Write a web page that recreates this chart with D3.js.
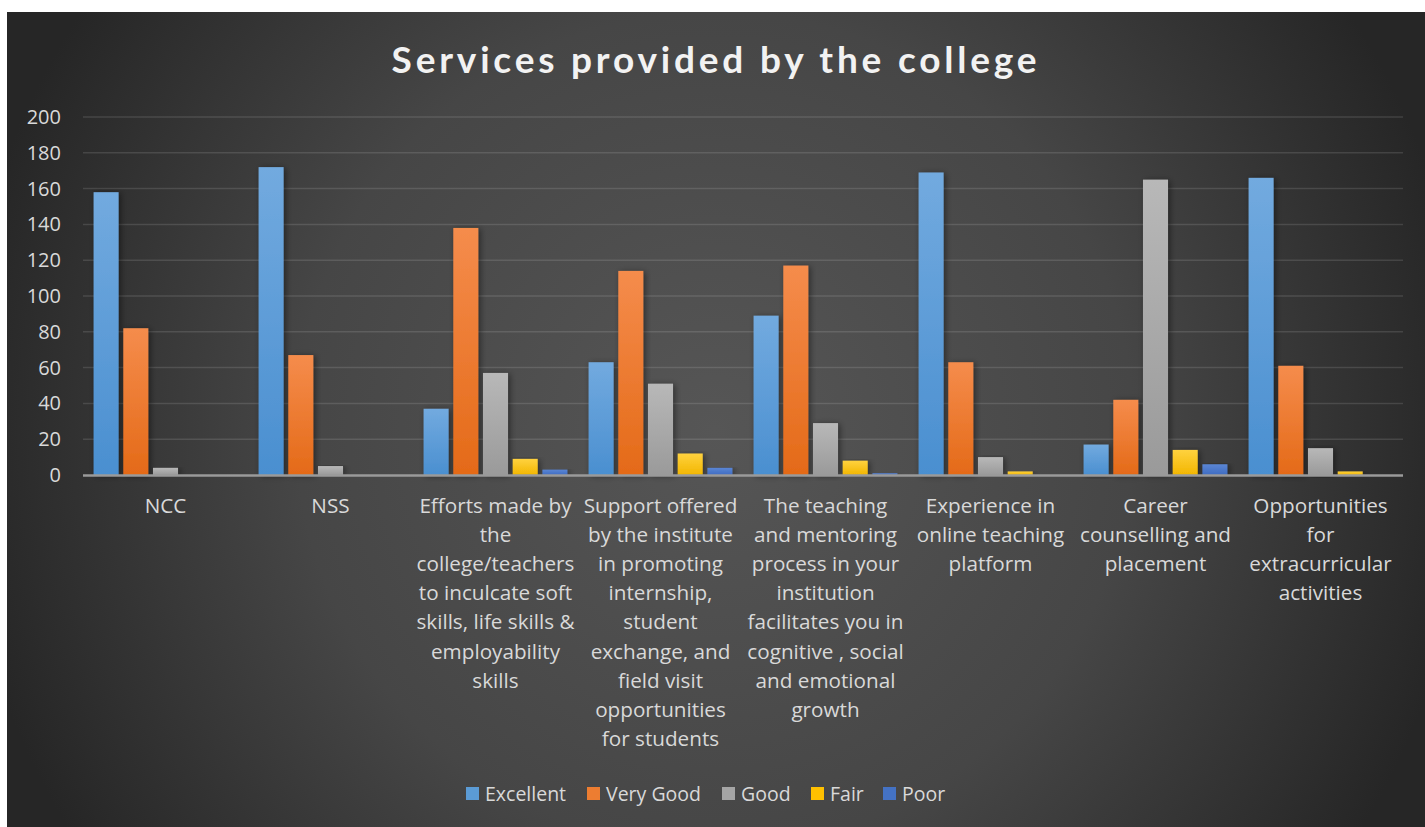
<!DOCTYPE html>
<html>
<head>
<meta charset="utf-8">
<script src="https://cdn.jsdelivr.net/npm/d3@7"></script>
<style>
  html, body { margin: 0; padding: 0; background: #ffffff; }
  svg { display: block; }
</style>
</head>
<body>
<svg id="chart" width="1425" height="827"></svg>
<script>
const categories = ["NCC", "NSS", "Efforts", "Support", "Teaching", "Experience", "Career", "Opportunities"];
const categoryLabels = [
  ["NCC"],
  ["NSS"],
  ["Efforts made by", "the", "college/teachers", "to inculcate soft", "skills, life skills &", "employability", "skills"],
  ["Support offered", "by the institute", "in promoting", "internship,", "student", "exchange, and", "field visit", "opportunities", "for students"],
  ["The teaching", "and mentoring", "process in your", "institution", "facilitates you in", "cognitive , social", "and emotional", "growth"],
  ["Experience in", "online teaching", "platform"],
  ["Career", "counselling and", "placement"],
  ["Opportunities", "for", "extracurricular", "activities"]
];
const seriesNames = ["Excellent", "Very Good", "Good", "Fair", "Poor"];
const excellent = [158, 172, 37, 63, 89, 169, 17, 166];
const veryGood  = [82, 67, 138, 114, 117, 63, 42, 61];
const good      = [4, 5, 57, 51, 29, 10, 165, 15];
const fair      = [0, 0, 9, 12, 8, 2, 14, 2];
const poor      = [0, 0, 3, 4, 1, 0, 6, 0];
const yTicks = [0, 20, 40, 60, 80, 100, 120, 140, 160, 180, 200];
const titleText = "Services provided by the college";

const seriesValues = [excellent, veryGood, good, fair, poor];
const colorsTop    = ["#72aadf", "#f58c4c", "#b8b8b8", "#ffd23f", "#5b86d4"];
const colorsBottom = ["#4a8fd0", "#e46a18", "#9a9a9a", "#f2b600", "#3e6cc2"];
const legendColors = ["#5b9bd5", "#ed7d31", "#a5a5a5", "#ffc000", "#4472c4"];

const bodyFont = "'Open Sans', Lato, sans-serif";
const titleFont = "Lato, 'Open Sans', sans-serif";

const svg = d3.select("#chart");
const defs = svg.append("defs");

const bg = defs.append("radialGradient").attr("id", "bg")
  .attr("gradientUnits", "userSpaceOnUse")
  .attr("cx", 715).attr("cy", 430).attr("r", 760);
bg.append("stop").attr("offset", "0%").attr("stop-color", "#565656");
bg.append("stop").attr("offset", "55%").attr("stop-color", "#464646");
bg.append("stop").attr("offset", "100%").attr("stop-color", "#262626");

seriesNames.forEach((s, i) => {
  const g = defs.append("linearGradient").attr("id", "g" + i)
    .attr("x1", 0).attr("y1", 0).attr("x2", 0).attr("y2", 1);
  g.append("stop").attr("offset", "0%").attr("stop-color", colorsTop[i]);
  g.append("stop").attr("offset", "100%").attr("stop-color", colorsBottom[i]);
});

const shadow = defs.append("filter").attr("id", "shadow")
  .attr("x", "-30%").attr("y", "-10%").attr("width", "160%").attr("height", "120%");
shadow.append("feDropShadow").attr("dx", 2).attr("dy", 1).attr("stdDeviation", 3)
  .attr("flood-color", "#000").attr("flood-opacity", 0.45);

svg.append("rect").attr("x", 7).attr("y", 12).attr("width", 1418).attr("height", 815)
  .attr("fill", "url(#bg)");

const plotLeft = 83, plotRight = 1403, plotTop = 117, plotBottom = 475;

const x = d3.scaleBand().domain(categories).range([plotLeft, plotRight]).paddingInner(0).paddingOuter(0);
const groupWidth = 143.8;
const xs = d3.scaleBand().domain(seriesNames).range([0, groupWidth]).paddingInner(0.158).paddingOuter(0);
const y = d3.scaleLinear().domain([0, 200]).range([plotBottom, plotTop]);

svg.append("g").selectAll("line").data(yTicks.filter(t => t > 0)).join("line")
  .attr("x1", plotLeft).attr("x2", plotRight)
  .attr("y1", d => y(d)).attr("y2", d => y(d))
  .attr("stroke", "#ffffff").attr("stroke-opacity", 0.12).attr("stroke-width", 1.5);

const yAxis = d3.axisLeft(y).tickValues(yTicks).tickSize(0).tickPadding(0);
const yg = svg.append("g").attr("transform", `translate(${plotLeft - 22},0)`).call(yAxis);
yg.select(".domain").remove();
yg.selectAll("text").attr("fill", "#d9d9d9").style("font-size", "20px")
  .style("font-family", bodyFont);

const barsG = svg.append("g");
seriesNames.forEach((s, si) => {
  barsG.append("g").selectAll("rect").data(categories.map((c, ci) => ({ c, v: seriesValues[si][ci] })))
    .join("rect")
    .attr("x", d => x(d.c) + (x.bandwidth() - groupWidth) / 2 + xs(s))
    .attr("width", xs.bandwidth())
    .attr("y", d => y(d.v))
    .attr("height", d => y(0) - y(d.v))
    .attr("fill", "url(#g" + si + ")")
    .attr("filter", "url(#shadow)");
});

svg.append("line").attr("x1", plotLeft).attr("x2", plotRight)
  .attr("y1", y(0) + 0.5).attr("y2", y(0) + 0.5)
  .attr("stroke", "#9a9a9a").attr("stroke-width", 2.5);

const xl = svg.append("g");
categories.forEach((c, ci) => {
  const t = xl.append("text")
    .attr("x", x(c) + x.bandwidth() / 2)
    .attr("y", 512.5)
    .attr("text-anchor", "middle")
    .attr("fill", "#d9d9d9")
    .style("font-size", "20.7px")
    .style("font-family", bodyFont);
  categoryLabels[ci].forEach((line, li) => {
    t.append("tspan").attr("x", x(c) + x.bandwidth() / 2).attr("dy", li === 0 ? 0 : 29.2).text(line);
  });
});

svg.append("text").attr("x", 716).attr("y", 73).attr("text-anchor", "middle")
  .attr("fill", "#f2f2f2")
  .style("font-size", "37px").style("font-weight", "bold")
  .style("font-family", titleFont)
  .style("letter-spacing", "3.8px")
  .text(titleText);

const legendX = [466, 587, 722, 811, 883];
const lg = svg.append("g");
seriesNames.forEach((s, i) => {
  lg.append("rect").attr("x", legendX[i]).attr("y", 787).attr("width", 13).attr("height", 13)
    .attr("fill", legendColors[i]);
  lg.append("text").attr("x", legendX[i] + 19).attr("y", 800.5)
    .attr("fill", "#d9d9d9").style("font-size", "19.5px")
    .style("font-family", bodyFont).text(s);
});
</script>
</body>
</html>
